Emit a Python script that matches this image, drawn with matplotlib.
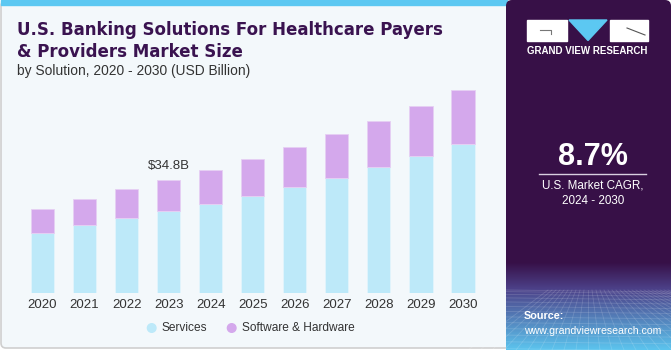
import numpy as np
import matplotlib
matplotlib.use("Agg")
import matplotlib.pyplot as plt
from matplotlib.patches import FancyBboxPatch, Rectangle, Polygon, Circle

# values (USD Billion)
years = ["2020", "2021", "2022", "2023", "2024", "2025", "2026", "2027", "2028", "2029", "2030"]
services = [18.6, 20.9, 23.0, 25.2, 27.4, 29.9, 32.6, 35.5, 38.7, 42.1, 45.8]
software_hardware = [7.3, 8.1, 8.9, 9.6, 10.5, 11.3, 12.2, 13.3, 14.3, 15.4, 16.6]
series_names = ["Services", "Software & Hardware"]
label_year = "2023"
label_text = "$34.8B"

C_SERV = "#BDE9F9"
C_SW = "#D4A8EC"
C_DARK = "#3A1350"
C_PANEL = "#371047"
C_TEXT = "#333333"

plt.rcParams["font.family"] = ["Liberation Sans", "DejaVu Sans"]

W, H = 671, 350
fig = plt.figure(figsize=(W / 100, H / 100), dpi=100)

# background layer in pixel coordinates
bg = fig.add_axes([0, 0, 1, 1])
bg.set_xlim(0, W); bg.set_ylim(H, 0); bg.axis("off")
bg.add_patch(Rectangle((0, 0), W, H, color="white", zorder=0))
bg.add_patch(FancyBboxPatch((1, 1), 510, 347, boxstyle="round,pad=0,rounding_size=5",
                            fc="#F3F8FB", ec="#CFCFCF", lw=1.2, zorder=1))
bg.add_patch(Rectangle((1, 0), 506, 5, color="#5CC8F2", zorder=2))

# right panel
bg.add_patch(FancyBboxPatch((506, 0), 165, 350, boxstyle="round,pad=0,rounding_size=6",
                            fc=C_PANEL, ec="none", zorder=3))
grad = np.linspace(0, 1, 100)[:, None]
c0 = np.array([0x37, 0x10, 0x47]) / 255
c1 = np.array([0x4C, 0x40, 0x88]) / 255
c2 = np.array([0x5C, 0xC4, 0xEE]) / 255
rgb = np.where(grad < 0.3, c0 + (c1 - c0) * (grad / 0.3),
               c1 + (c2 - c1) * ((grad - 0.3) / 0.7))
bg.imshow(rgb[:, None, :].repeat(2, axis=1), extent=[506, 671, 350, 262], aspect="auto", zorder=4)
# faint perspective grid
for k in range(14):
    y = 290 + (k ** 1.45) * 1.6
    bg.plot([506, 671], [y, y + 2], color="white", alpha=0.15, lw=0.6, zorder=5)
for k in range(-10, 24):
    x0 = 588 + k * 4
    bg.plot([x0, 588 + k * 12], [290, 350], color="white", alpha=0.15, lw=0.6, zorder=5)
bg.set_xlim(0, W); bg.set_ylim(H, 0)

# logo
bg.add_patch(Rectangle((527, 20), 39.5, 20.5, color="white", zorder=6))
bg.plot([540, 551, 551], [29.5, 29.5, 34], color="#777777", lw=0.8, zorder=7)
bg.add_patch(Polygon([[569, 20], [607, 20], [588, 40.5]], color="#5CC8F2", zorder=6))
bg.add_patch(Rectangle((610, 20), 37.5, 20.5, color="white", zorder=6))
bg.plot([627, 645], [28, 35], color="#555555", lw=0.8, zorder=7)
bg.text(587.5, 51.5, "GRAND VIEW RESEARCH", color="white", fontsize=7, fontweight="bold",
        ha="center", va="center", zorder=7)

bg.text(592.5, 157, "8.7%", color="white", fontsize=22, fontweight="bold",
        ha="center", va="center", zorder=7)
bg.plot([539, 646], [173.5, 173.5], color="#D8CFE0", lw=1, zorder=7)
bg.text(593, 186, "U.S. Market CAGR,", color="white", fontsize=8.4, ha="center", va="center", zorder=7)
bg.text(593, 201.5, "2024 - 2030", color="white", fontsize=8.4, ha="center", va="center", zorder=7)
bg.text(524, 316, "Source:", color="white", fontsize=7.8, fontweight="bold",
        ha="left", va="center", zorder=7)
bg.text(524, 330.5, "www.grandviewresearch.com", color="white", fontsize=7.6,
        ha="left", va="center", zorder=7)

# titles
bg.text(17, 30, "U.S. Banking Solutions For Healthcare Payers", color=C_DARK, fontsize=12,
        fontweight="bold", family=["DejaVu Sans"], ha="left", va="center", zorder=7)
bg.text(17, 52, "& Providers Market Size", color=C_DARK, fontsize=12,
        fontweight="bold", family=["DejaVu Sans"], ha="left", va="center", zorder=7)
bg.text(17, 70.5, "by Solution, 2020 - 2030 (USD Billion)", color=C_TEXT, fontsize=9.9,
        ha="left", va="center", zorder=7)

# bar chart
left_px, right_px, top_px, base_px = 20, 485, 85, 293.3
ax = fig.add_axes([left_px / W, 1 - base_px / H, (right_px - left_px) / W, (base_px - top_px) / H])
ax.patch.set_alpha(0)
x = np.arange(len(years))
ax.bar(x, services, width=0.55, color=C_SERV, edgecolor="#E2F4FC", lw=0.6)
ax.bar(x, software_hardware, width=0.55, bottom=services, color=C_SW, edgecolor="#E6D0F3", lw=0.6)
ax.set_xlim((left_px - 42.5) / 42.05, (right_px - 42.5) / 42.05)
ax.set_ylim(0, (base_px - top_px) * 0.3071)
i = years.index(label_year)
ax.text(i, services[i] + software_hardware[i] + 2.3, label_text, ha="center", va="bottom",
        fontsize=9.5, color=C_TEXT)
ax.set_xticks(x)
ax.set_xticklabels(years, fontsize=9.5, color=C_TEXT)
ax.tick_params(axis="x", length=0, pad=4)
ax.set_yticks([])
for s in ax.spines.values():
    s.set_visible(False)

# legend
for cx, col, tx, name in [(151.7, C_SERV, 161.5, series_names[0]),
                          (231.7, C_SW, 242, series_names[1])]:
    bg.add_patch(Circle((cx, 328), 4.3, color=col, zorder=7))
    bg.text(tx, 328, name, fontsize=8.6, color=C_TEXT, ha="left", va="center", zorder=7)

fig.savefig("out.png", dpi=100)
